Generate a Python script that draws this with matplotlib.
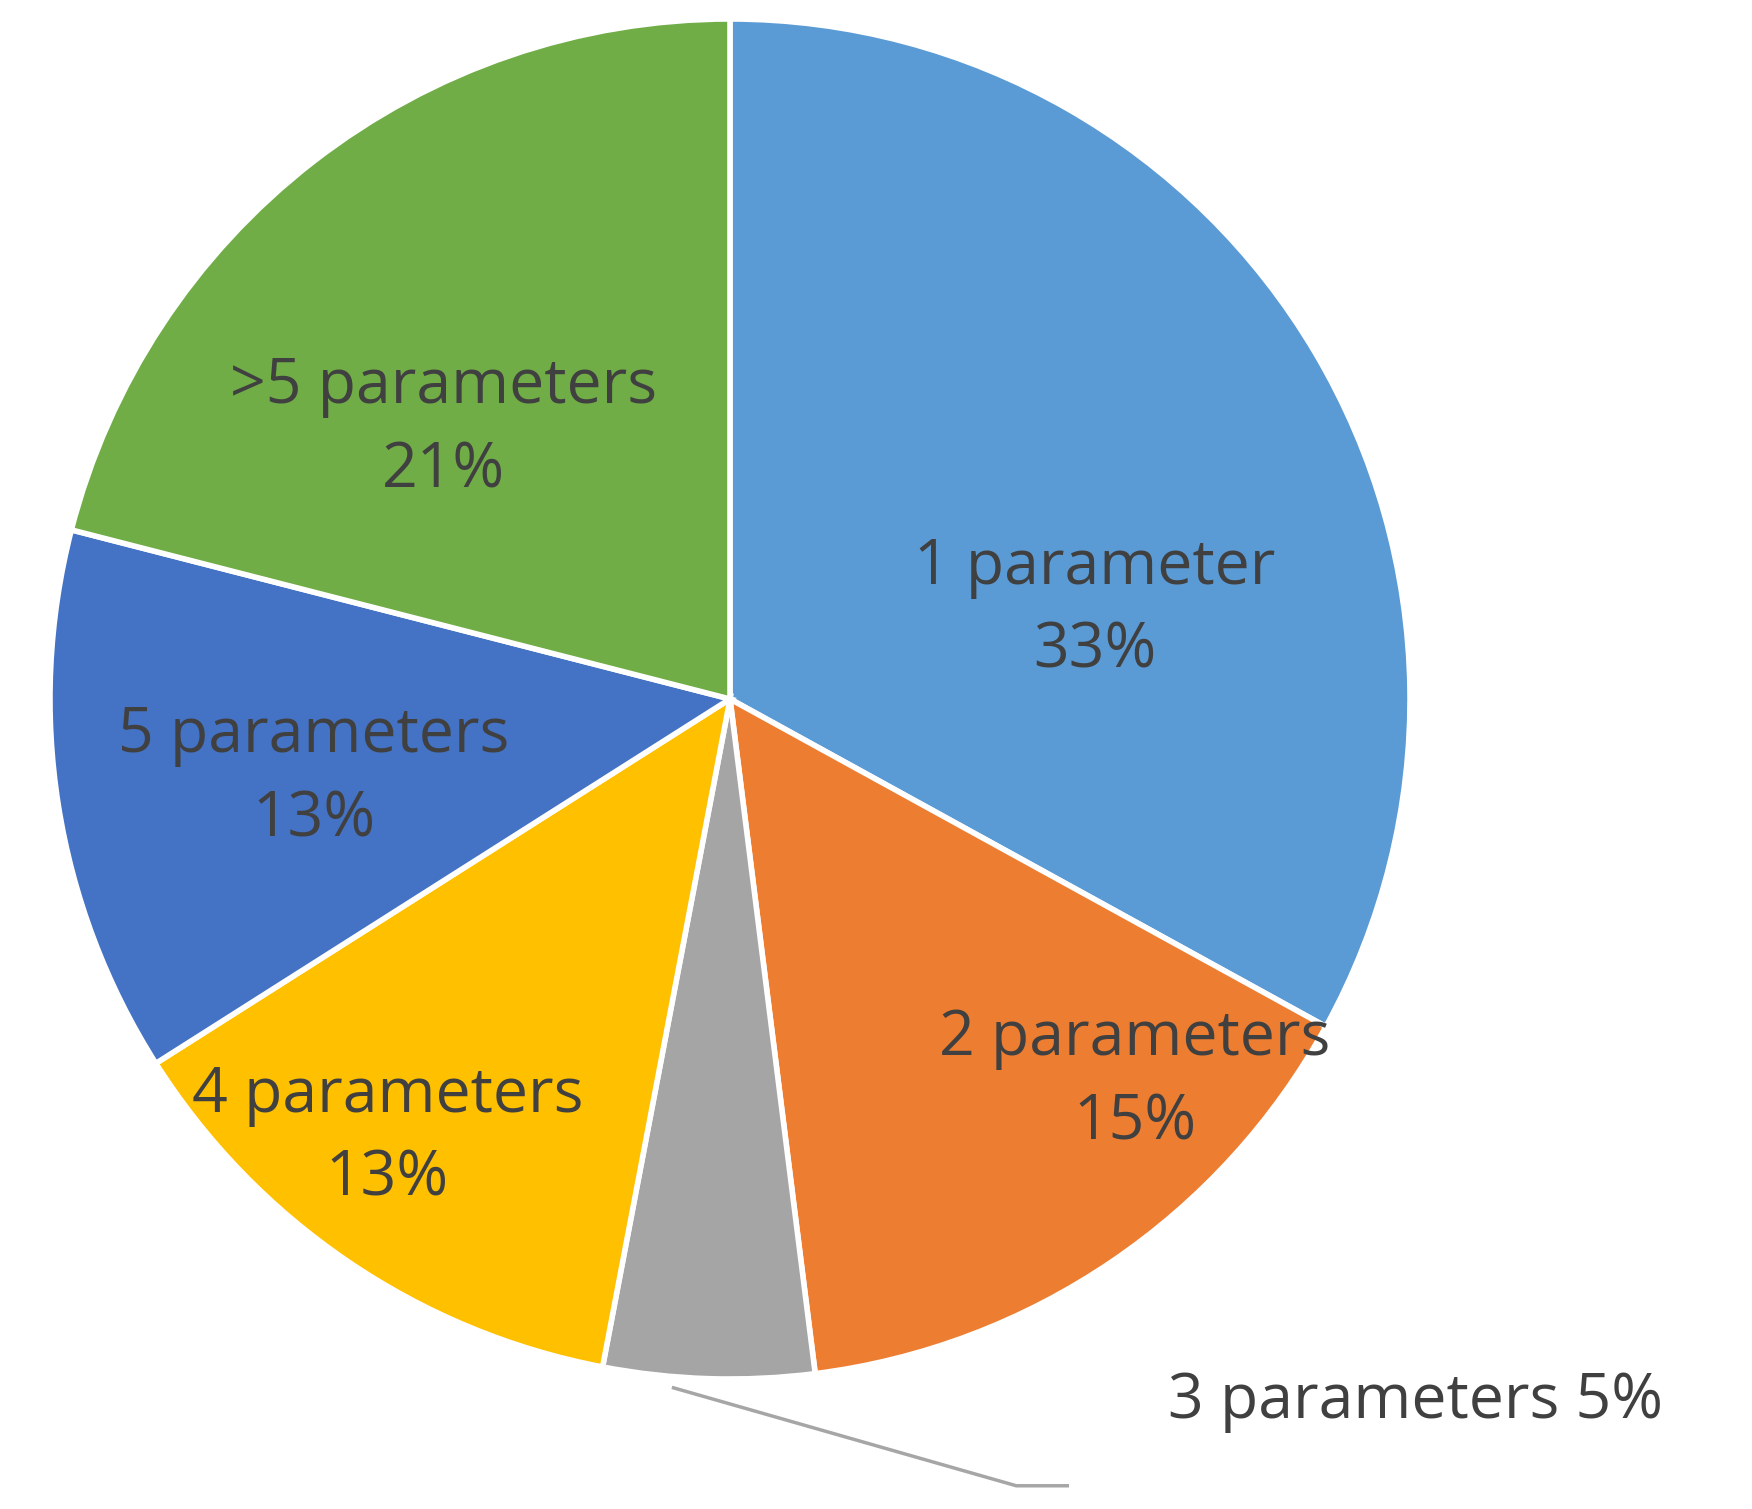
import matplotlib
matplotlib.use("Agg")
import matplotlib.pyplot as plt

labels = ["1 parameter", "2 parameters", "3 parameters", "4 parameters", "5 parameters", ">5 parameters"]
shares = [33, 15, 5, 13, 13, 21]
colors = ["#5B9BD5", "#ED7D31", "#A5A5A5", "#FFC000", "#4472C4", "#70AD47"]
# label anchor positions (pie radius = 1)
label_pos = [(0.537, 0.132), (0.595, -0.562), (1.008, -1.033),
             (-0.504, -0.645), (-0.612, -0.116), (-0.421, 0.397)]

W, H = 1752, 1509
cx, cy, r = 730, 699, 680
fig = plt.figure(figsize=(W / 100, H / 100), dpi=100)
ax = fig.add_axes([(cx - r) / W, (H - cy - r) / H, 2 * r / W, 2 * r / H])
ax.pie(shares, colors=colors, startangle=90, counterclock=False,
       wedgeprops=dict(edgecolor="white", linewidth=4))
ax.set_xlim(-1, 1)
ax.set_ylim(-1, 1)
ax.set_aspect("equal")
ax.axis("off")

for lab, val, (x, y) in zip(labels, shares, label_pos):
    if lab == "3 parameters":
        ax.text(x, y, f"{lab} {val}%", ha="center", va="center", fontsize=45,
                color="#404040", family="Open Sans", clip_on=False)
        ax.plot([-0.083, 0.421, 0.496], [-1.013, -1.157, -1.157], color="#A6A6A6",
                lw=2.5, clip_on=False)
    else:
        ax.text(x, y, f"{lab}\n{val}%", ha="center", va="center", fontsize=45,
                color="#404040", family="Open Sans", linespacing=1.45)

fig.savefig("out.png", dpi=100)
